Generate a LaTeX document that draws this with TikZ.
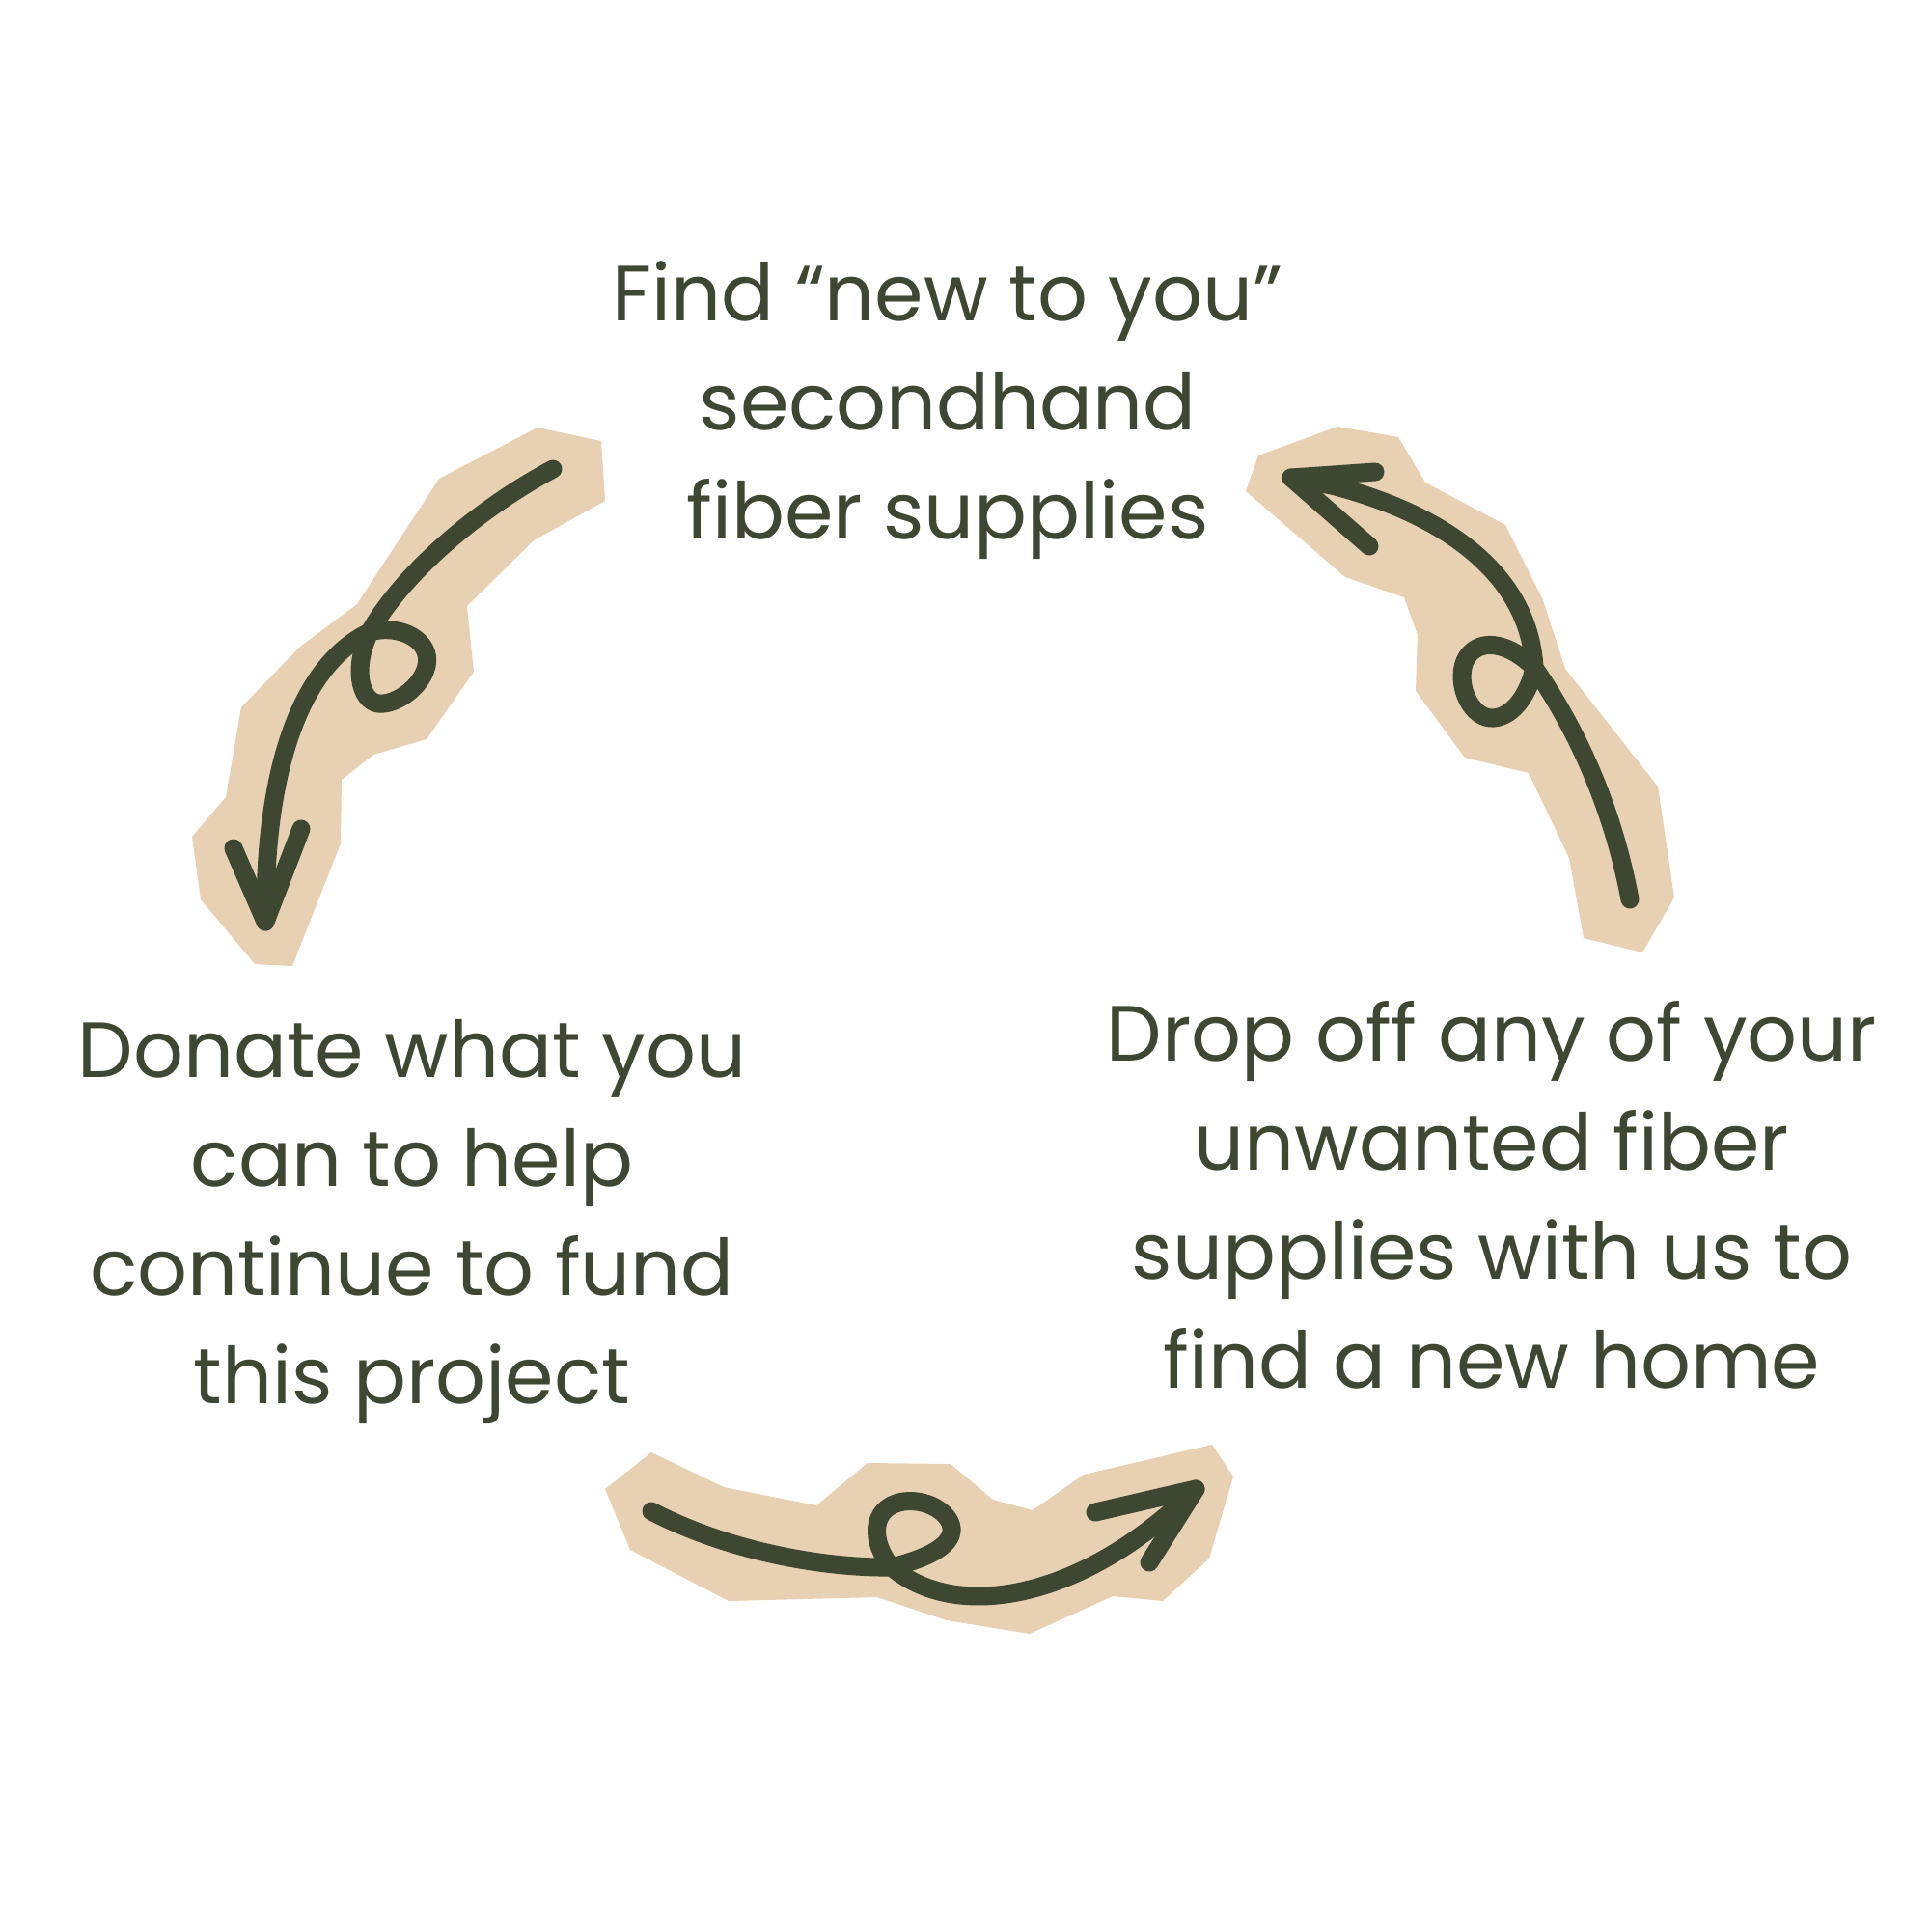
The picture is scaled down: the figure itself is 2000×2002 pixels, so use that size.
\documentclass[tikz,border=0pt]{standalone}
\usepackage{fontspec}
\setmainfont{Poppins}
\definecolor{ink}{HTML}{3D4731}
\definecolor{blob}{HTML}{E8D0B2}
\tikzset{
  blobshape/.style={fill=blob, draw=none},
  stroke/.style={draw=ink, line width=0.19cm, line cap=round, line join=round},
  txt/.style={font=\fontsize{23.1}{30}\selectfont, text=ink, anchor=base, inner sep=0pt}
}
\begin{document}
\begin{tikzpicture}[x=0.01cm,y=-0.01cm]
\useasboundingbox (0,0) rectangle (2000,2002);

% ---------- beige patches ----------
\fill[blobshape] (557,443) -- (623,457) -- (627,519) -- (553,560) -- (484,628) -- (491,696)
  -- (442,766) -- (387,782) -- (354,808) -- (353,874) -- (303,1001) -- (264,999)
  -- (208,932) -- (199,867) -- (234,826) -- (250,733) -- (311,670) -- (370,626)
  -- (455,496) -- cycle;
\fill[blobshape] (1386,442) -- (1449,453) -- (1477,500) -- (1560,544) -- (1599,622)
  -- (1622,693) -- (1718,815) -- (1735,930) -- (1702,987) -- (1641,972) -- (1626,889)
  -- (1584,801) -- (1518,785) -- (1467,716) -- (1469,658) -- (1455,619) -- (1394,598)
  -- (1291,509) -- (1304,472) -- cycle;
\fill[blobshape] (675,1505) -- (750,1541) -- (846,1560) -- (899,1516) -- (985,1517)
  -- (1029,1554) -- (1070,1565) -- (1123,1528) -- (1256,1497) -- (1278,1530)
  -- (1253,1615) -- (1205,1659) -- (1153,1654) -- (1067,1693) -- (981,1679)
  -- (909,1655) -- (755,1659) -- (653,1606) -- (627,1543) -- cycle;

% ---------- left arrow (top -> down-left) ----------
\coordinate (LT) at (573,486);
\coordinate (LC) at (383,655);
\coordinate (LH) at (275,955);
\draw[stroke] (LT) .. controls (500,525) and (420,590) .. (LC)
  .. controls (310,690) and (274,800) .. (LH);
\draw[stroke] (LC) .. controls (415,646) and (448,664) .. (442,690)
  .. controls (437,712) and (410,731) .. (392,729)
  .. controls (372,726) and (366,690) .. cycle;
\draw[stroke] (242,879) -- (LH) -- (312,859);

% ---------- right arrow (bottom -> up-left) ----------
\coordinate (RT) at (1689,932);
\coordinate (RC) at (1590,692);
\coordinate (RH) at (1338,495);
\draw[stroke] (RT) .. controls (1670,830) and (1630,750) .. (RC)
  .. controls (1585,600) and (1505,535) .. (1380,503) -- (RH);
\draw[stroke] (RC) .. controls (1562,664) and (1530,660) .. (1518,685)
  .. controls (1508,710) and (1525,746) .. (1548,744)
  .. controls (1570,742) and (1585,716) .. cycle;
\draw[stroke] (1425,489) -- (RH) -- (1419,566);

% ---------- bottom arrow (left -> right) ----------
\coordinate (BT) at (675,1566);
\coordinate (BC) at (924,1624);
\coordinate (BH) at (1239,1543);
\draw[stroke] (BT) .. controls (760,1610) and (860,1625) .. (BC)
  .. controls (990,1680) and (1120,1660) .. (BH);
\draw[stroke] (BC) .. controls (903,1600) and (900,1562) .. (936,1556)
  .. controls (965,1552) and (992,1573) .. (985,1591)
  .. controls (979,1606) and (955,1616) .. cycle;
\draw[stroke] (1135,1567) -- (BH) -- (1191,1619);

% ---------- texts ----------
\node[txt] (top1) at (982,332) {Find “new to you”};
\node[txt] (top2) at (982,445) {secondhand};
\node[txt] (top3) at (982,558) {fiber supplies};

\node[txt] (left1) at (427,1116) {Donate what you};
\node[txt] (left2) at (427,1229) {can to help};
\node[txt] (left3) at (427,1342) {continue to fund};
\node[txt] (left4) at (427,1454) {this project};

\node[txt] (right1) at (1546,1099) {Drop off any of your};
\node[txt] (right2) at (1546,1212) {unwanted fiber};
\node[txt] (right3) at (1546,1325) {supplies with us to};
\node[txt] (right4) at (1546,1438) {find a new home};
\end{tikzpicture}
\end{document}
